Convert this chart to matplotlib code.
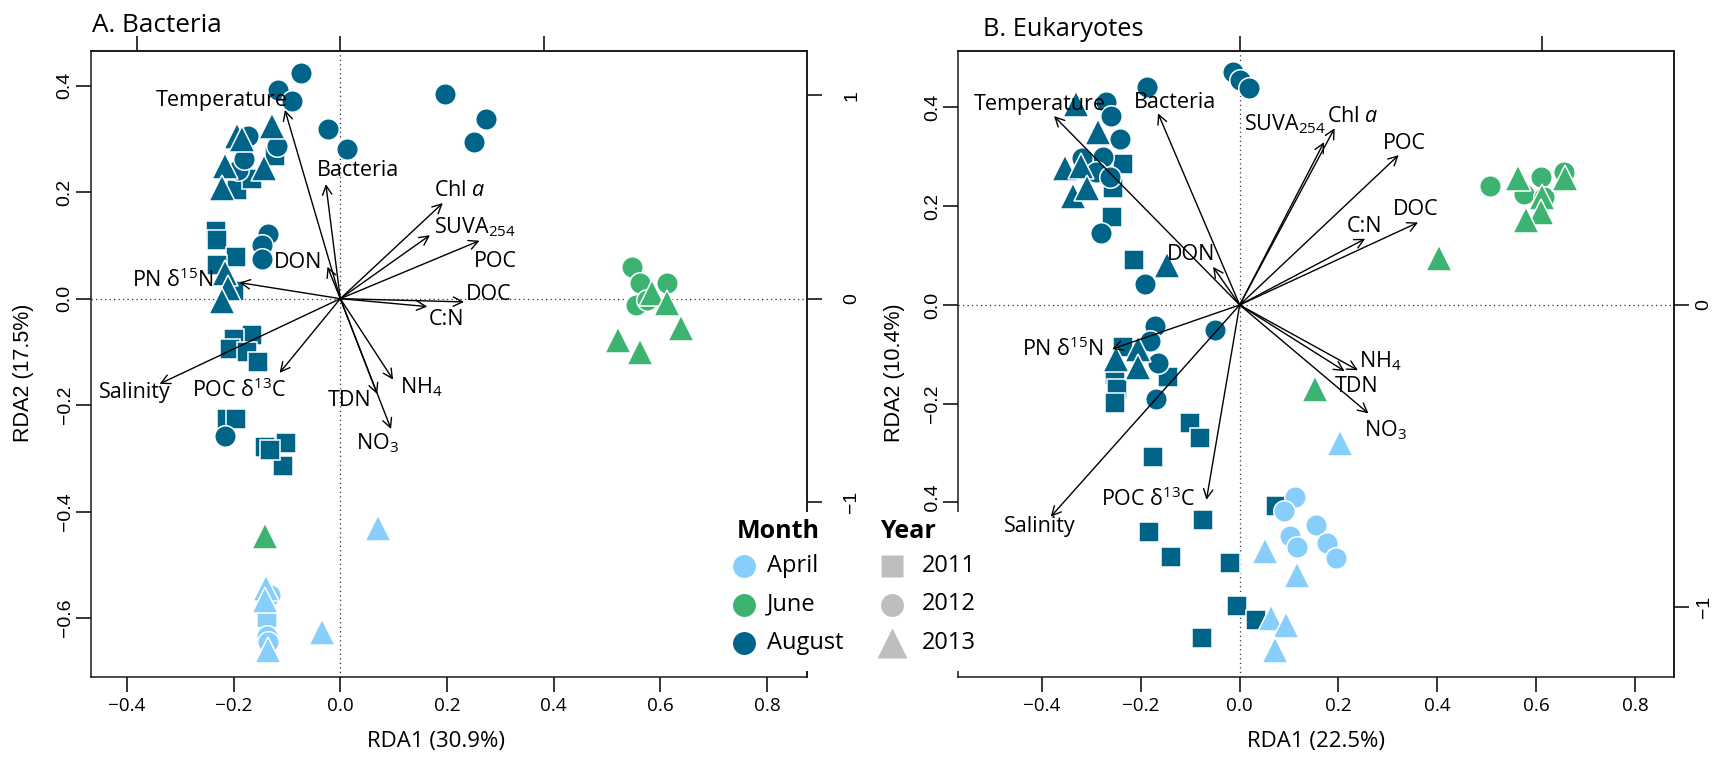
import matplotlib
matplotlib.use("Agg")
import matplotlib.pyplot as plt
from matplotlib.patches import Rectangle
from matplotlib.transforms import blended_transform_factory, ScaledTranslation

W, H, DPI = 1717, 757, 100

plt.rcParams['font.family'] = ['Open Sans', 'DejaVu Sans']
plt.rcParams['mathtext.fontset'] = 'custom'
plt.rcParams['mathtext.rm'] = 'Open Sans'
plt.rcParams['mathtext.it'] = 'Open Sans:italic'
plt.rcParams['mathtext.default'] = 'regular'

# ---------------------------------------------------------------- data
months = ["April", "June", "August"]
month_colors = ["#87CEFA", "#3CB371", "#006489"]
years = ["2011", "2012", "2013"]
year_markers = ["s", "o", "^"]

env_labels = ["Temperature", "Bacteria", "DON", "PN δ$^{15}$N", "Salinity",
              "POC δ$^{13}$C", "TDN", "NO$_3$", "NH$_4$", r"Chl $\mathit{a}$",
              "SUVA$_{254}$", "POC", "DOC", "C:N"]

# ---- Panel A: Bacteria (site scores)
bac_aug_2011_x = [-0.1225, -0.194, -0.165, -0.233, -0.232, -0.196, -0.232, -0.200,
                  -0.166, -0.200, -0.207, -0.175, -0.154, -0.212, -0.195, -0.141,
                  -0.102, -0.108, -0.131]
bac_aug_2011_y = [0.268, 0.204, 0.225, 0.128, 0.110, 0.079, 0.064, 0.015,
                  -0.068, -0.075, -0.094, -0.100, -0.119, -0.226, -0.226, -0.279,
                  -0.271, -0.315, -0.285]
bac_aug_2012_x = [-0.074, -0.116, -0.091, -0.024, 0.012, 0.197, 0.273, 0.251,
                  -0.1725, -0.119, -0.191, -0.180, -0.135, -0.146, -0.1475, -0.216]
bac_aug_2012_y = [0.424, 0.392, 0.371, 0.318, 0.281, 0.385, 0.338, 0.294,
                  0.305, 0.2865, 0.241, 0.262, 0.1207, 0.100, 0.075, -0.258]
bac_aug_2013_x = [-0.1275, -0.194, -0.185, -0.216, -0.144, -0.2225, -0.216, -0.210, -0.2225]
bac_aug_2013_y = [0.324, 0.305, 0.300, 0.249, 0.245, 0.207, 0.049, 0.020, -0.004]
bac_jun_2012_x = [0.546, 0.561, 0.613, 0.554, 0.575]
bac_jun_2012_y = [0.060, 0.030, 0.030, -0.012, -0.002]
bac_jun_2013_x = [0.584, 0.613, 0.638, 0.520, 0.561, -0.142]
bac_jun_2013_y = [0.010, -0.008, -0.056, -0.078, -0.100, -0.445]
bac_apr_2011_x = [-0.138]
bac_apr_2011_y = [-0.600]
bac_apr_2012_x = [-0.132, -0.138, -0.135]
bac_apr_2012_y = [-0.556, -0.633, -0.645]
bac_apr_2013_x = [0.070, -0.140, -0.141, -0.135, -0.035]
bac_apr_2013_y = [-0.430, -0.543, -0.566, -0.660, -0.626]

# ---- Panel A: environmental biplot scores (order of env_labels)
bac_arrow_x = [-0.272, -0.071, -0.063, -0.495, -0.887, -0.298, 0.181, 0.249,
               0.259, 0.503, 0.440, 0.683, 0.607, 0.427]
bac_arrow_y = [0.928, 0.563, 0.157, 0.079, -0.419, -0.365, -0.469, -0.641,
               -0.398, 0.470, 0.312, 0.285, -0.016, -0.039]

# ---- Panel B: Eukaryotes (site scores)
euk_aug_2011_x = [-0.236, -0.256, -0.258, -0.2146, -0.236, -0.253, -0.248, -0.253,
                  -0.146, -0.100, -0.080, -0.175, -0.074, -0.184, -0.140, -0.020,
                  -0.005, 0.034, -0.0756, 0.074]
euk_aug_2011_y = [0.285, 0.236, 0.179, 0.092, -0.085, -0.142, -0.171, -0.198,
                  -0.146, -0.240, -0.269, -0.307, -0.435, -0.460, -0.510, -0.523,
                  -0.610, -0.639, -0.675, -0.407]
euk_aug_2012_x = [-0.013, 0.000, 0.019, -0.187, -0.270, -0.260, -0.243, -0.277,
                  -0.320, -0.290, -0.263, -0.281, -0.192, -0.172, -0.0506, -0.182,
                  -0.165, -0.169]
euk_aug_2012_y = [0.471, 0.456, 0.439, 0.442, 0.411, 0.382, 0.336, 0.299,
                  0.297, 0.269, 0.260, 0.146, 0.042, -0.043, -0.050, -0.073,
                  -0.118, -0.190]
euk_aug_2013_x = [-0.331, -0.287, -0.354, -0.3205, -0.3375, -0.310, -0.148, -0.206, -0.250, -0.206]
euk_aug_2013_y = [0.407, 0.350, 0.277, 0.281, 0.220, 0.236, 0.081, -0.0895, -0.110, -0.126]
euk_jun_2012_x = [0.507, 0.609, 0.575, 0.617, 0.657]
euk_jun_2012_y = [0.241, 0.260, 0.224, 0.218, 0.270]
euk_jun_2013_x = [0.564, 0.659, 0.612, 0.609, 0.579, 0.403, 0.153]
euk_jun_2013_y = [0.257, 0.257, 0.219, 0.189, 0.172, 0.095, -0.171]
euk_apr_2012_x = [0.111, 0.090, 0.154, 0.101, 0.117, 0.1775, 0.194]
euk_apr_2012_y = [-0.388, -0.4175, -0.446, -0.468, -0.490, -0.483, -0.513]
euk_apr_2013_x = [0.0506, 0.117, 0.063, 0.0945, 0.071, 0.203]
euk_apr_2013_y = [-0.499, -0.548, -0.635, -0.649, -0.698, -0.279]

# ---- Panel B: environmental biplot scores
euk_arrow_x = [-0.614, -0.270, -0.088, -0.422, -0.625, -0.110, 0.347, 0.426,
               0.391, 0.314, 0.279, 0.526, 0.590, 0.415]
euk_arrow_y = [0.625, 0.634, 0.126, -0.146, -0.701, -0.645, -0.219, -0.359,
               -0.216, 0.585, 0.539, 0.496, 0.273, 0.219]

# ---------------------------------------------------------------- layout (label placement)
bac_label_pos = [(-0.2225, 0.373), (0.034, 0.241), (-0.079, 0.068), (-0.313, 0.034),
                 (-0.386, -0.177), (-0.189, -0.172), (0.018, -0.191), (0.070, -0.271),
                 (0.151, -0.166), (0.223, 0.2036), (0.252, 0.134), (0.291, 0.0695),
                 (0.279, 0.007), (0.199, -0.040)]
euk_label_pos = [(-0.405, 0.407), (-0.130, 0.411), (-0.098, 0.103), (-0.358, -0.0895),
                 (-0.405, -0.448), (-0.186, -0.393), (0.236, -0.165), (0.296, -0.254),
                 (0.285, -0.114), (0.229, 0.382), (0.092, 0.366), (0.334, 0.327),
                 (0.356, 0.193), (0.252, 0.159)]

bac_points = {
    ("August", "2011"): (bac_aug_2011_x, bac_aug_2011_y),
    ("August", "2012"): (bac_aug_2012_x, bac_aug_2012_y),
    ("August", "2013"): (bac_aug_2013_x, bac_aug_2013_y),
    ("June", "2012"): (bac_jun_2012_x, bac_jun_2012_y),
    ("June", "2013"): (bac_jun_2013_x, bac_jun_2013_y),
    ("April", "2011"): (bac_apr_2011_x, bac_apr_2011_y),
    ("April", "2012"): (bac_apr_2012_x, bac_apr_2012_y),
    ("April", "2013"): (bac_apr_2013_x, bac_apr_2013_y),
}
euk_points = {
    ("August", "2011"): (euk_aug_2011_x, euk_aug_2011_y),
    ("August", "2012"): (euk_aug_2012_x, euk_aug_2012_y),
    ("August", "2013"): (euk_aug_2013_x, euk_aug_2013_y),
    ("June", "2012"): (euk_jun_2012_x, euk_jun_2012_y),
    ("June", "2013"): (euk_jun_2013_x, euk_jun_2013_y),
    ("April", "2012"): (euk_apr_2012_x, euk_apr_2012_y),
    ("April", "2013"): (euk_apr_2013_x, euk_apr_2013_y),
}

color_of = dict(zip(months, month_colors))
marker_of = dict(zip(years, year_markers))
msize = {"s": 15.0, "o": 15.5, "^": 19.0}

TICK_LEN = 10.8
LW = 1.1

fig = plt.figure(figsize=(W / DPI, H / DPI), dpi=DPI)


def px_axes(x0, y0, x1, y1):
    return fig.add_axes([x0 / W, 1 - y1 / H, (x1 - x0) / W, (y1 - y0) / H])


def fmt(v):
    s = f"{abs(v):.1f}"
    return ("\u2212" + s) if v < -1e-9 else s


def draw_panel(ax, points, ax_x, ax_y, lab_pos, k, xlim, ylim, yticks, hidden_yticks,
               top_ticks, right_ticks, right_label_offset_px):
    ax.set_xlim(*xlim)
    ax.set_ylim(*ylim)
    ax.axhline(0, color="#333333", lw=0.9, ls=(0, (1, 2.6)), zorder=1)
    ax.axvline(0, color="#333333", lw=0.9, ls=(0, (1, 2.6)), zorder=1)
    for (m, y), (xs, ys) in points.items():
        mk = marker_of[y]
        ax.plot(xs, ys, ls="none", marker=mk, ms=msize[mk], mfc=color_of[m],
                mec="white", mew=1.1, zorder=3)
    for sx, sy, lab, (lx, ly) in zip(ax_x, ax_y, env_labels, lab_pos):
        ax.annotate("", xy=(sx * k, sy * k), xytext=(0, 0),
                    arrowprops=dict(arrowstyle="->,head_length=0.55,head_width=0.28",
                                    lw=1.0, color="black", shrinkA=0, shrinkB=0,
                                    mutation_scale=12), zorder=4)
        ax.text(lx, ly, lab, ha="center", va="center", fontsize=15.5, zorder=5)
    for s in ax.spines.values():
        s.set_linewidth(LW)
        s.set_color("#1a1a1a")
    xt = [-0.4, -0.2, 0.0, 0.2, 0.4, 0.6, 0.8]
    ax.set_xticks(xt, [fmt(v) for v in xt], fontsize=13.6)
    ylabs = ["" if v in hidden_yticks else fmt(v) for v in yticks]
    ax.set_yticks(yticks, ylabs, fontsize=14,
                  fontfamily="Liberation Sans", rotation=90, va="center")
    ax.tick_params(axis="x", length=TICK_LEN, width=LW, pad=3.5)
    ax.tick_params(axis="y", length=TICK_LEN, width=LW, pad=1.5)

    secx = ax.secondary_xaxis("top", functions=(lambda v: v / k, lambda v: v * k))
    secx.set_xticks(top_ticks, [""] * len(top_ticks))
    secx.tick_params(length=TICK_LEN, width=LW)
    secx.spines["top"].set_linewidth(LW)
    secy = ax.secondary_yaxis("right", functions=(lambda v: v / k, lambda v: v * k))
    secy.set_yticks(right_ticks, [""] * len(right_ticks))
    secy.tick_params(length=TICK_LEN, width=LW)
    secy.spines["right"].set_linewidth(LW)
    # right-side (biplot scale) tick labels, rotated like R's side-4 axis
    tr = blended_transform_factory(ax.transAxes, ax.transData) + \
        ScaledTranslation(right_label_offset_px / DPI, 0, fig.dpi_scale_trans)
    for v in right_ticks:
        ax.text(1.0, v * k, f"{v:d}".replace("-", "\u2212"), transform=tr,
                rotation=90, ha="center", va="center", fontsize=14,
                fontfamily="Liberation Sans", clip_on=False)


axA = px_axes(90.7, 50.7, 807.0, 676.7)
axB = px_axes(958.3, 50.7, 1674.4, 676.7)

draw_panel(axA, bac_points, bac_arrow_x, bac_arrow_y, bac_label_pos, 0.382,
           (-0.468, 0.875), (-0.710, 0.4657), [-0.6, -0.4, -0.2, 0.0, 0.2, 0.4], [],
           [-1, 0, 1], [-1, 0, 1], 44.7)
# in panel B the -0.6 label sits fully under the "Year" key box
draw_panel(axB, euk_points, euk_arrow_x, euk_arrow_y, euk_label_pos, 0.612,
           (-0.5696, 0.880), (-0.753, 0.515), [-0.6, -0.4, -0.2, 0.0, 0.2, 0.4], [-0.6],
           [0, 1], [-1, 0], 29.6)

# titles and axis labels
fig.text(91.7 / W, 1 - 32 / H, "A. Bacteria", fontsize=18.8, va="baseline", ha="left")
fig.text(983 / W, 1 - 36 / H, "B. Eukaryotes", fontsize=18.3, va="baseline", ha="left")
fig.text(436 / W, 1 - 742 / H, "RDA1 (30.9%)", fontsize=16, ha="center", va="center")
fig.text(1315.5 / W, 1 - 742 / H, "RDA1 (22.5%)", fontsize=16, ha="center", va="center")
fig.text(24 / W, 1 - 372.5 / H, "RDA2 (17.5%)", fontsize=15.5, rotation=90,
         ha="center", va="center", fontfamily="Liberation Sans")
fig.text(894 / W, 1 - 372.5 / H, "RDA2 (10.4%)", fontsize=15.5, rotation=90,
         ha="center", va="center", fontfamily="Liberation Sans")

# ---------------------------------------------------------------- legends (overlay)
ov = fig.add_axes([0, 0, 1, 1], zorder=20)
ov.set_xlim(0, W)
ov.set_ylim(H, 0)
ov.axis("off")
ov.patch.set_alpha(0)

ROW0, ROWSTEP = 565.7, 38.8
ov.add_patch(Rectangle((727, 512), 100, 159, fc="white", ec="none"))
ov.add_patch(Rectangle((866, 512), 120, 159, fc="white", ec="none"))
ov.text(736.7, 532, "Month", fontsize=18, fontweight="bold", ha="left", va="center")
ov.text(880.0, 532, "Year", fontsize=18, fontweight="bold", ha="left", va="center")
for i, (m, c) in enumerate(zip(months, month_colors)):
    yy = ROW0 + i * ROWSTEP
    ov.plot([744.3], [yy], ls="none", marker="o", ms=16.5, mfc=c, mec="none")
    ov.text(766.7, yy, m, fontsize=17, ha="left", va="center")
leg_ms = {"s": 16.5, "o": 16.5, "^": 21.0}
for i, (yr, mk) in enumerate(zip(years, year_markers)):
    yy = ROW0 + i * ROWSTEP
    ov.plot([891.7], [yy], ls="none", marker=mk, ms=leg_ms[mk], mfc="#BEBEBE", mec="none")
    ov.text(921.7, yy, yr, fontsize=17, ha="left", va="center")

fig.savefig("out.png", dpi=DPI)
